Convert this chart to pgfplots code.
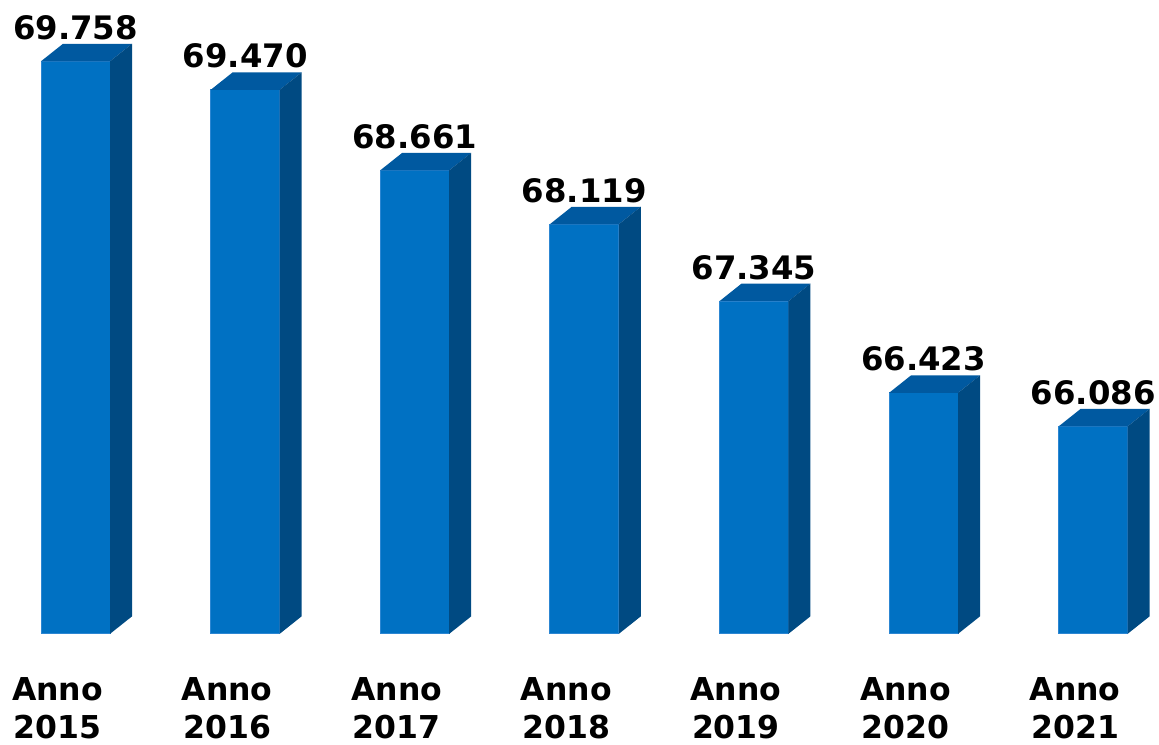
\documentclass[border={0pt 1.5pt 0pt 0pt}]{standalone}
\usepackage{fontspec}
\setmainfont{DejaVu Sans}
\usepackage{pgfplots}
\usepackage{pgfplotstable}
\pgfplotsset{compat=1.18}

\definecolor{frontblue}{HTML}{0071C3}
\definecolor{frontedge}{HTML}{2C86D2}
\definecolor{topblue}{HTML}{0059A0}
\definecolor{sideblue}{HTML}{004A82}

% top and side of each bar, drawn at the bar's top centre; \hh = bar height in pt
\pgfdeclareplotmark{prism}{%
  \pgfpathmoveto{\pgfqpoint{-10.35pt}{0pt}}%
  \pgfpathlineto{\pgfqpoint{-3.75pt}{5.25pt}}%
  \pgfpathlineto{\pgfqpoint{16.95pt}{5.25pt}}%
  \pgfpathlineto{\pgfqpoint{10.35pt}{0pt}}%
  \pgfpathclose
  \pgfsetfillcolor{topblue}\pgfusepath{fill}%
  \pgfpathmoveto{\pgfqpoint{10.35pt}{0pt}}%
  \pgfpathlineto{\pgfqpoint{16.95pt}{5.25pt}}%
  \pgfpathlineto{\pgfpoint{16.95pt}{5.25pt-\hh pt}}%
  \pgfpathlineto{\pgfpoint{10.35pt}{-\hh pt}}%
  \pgfpathclose
  \pgfsetfillcolor{sideblue}\pgfusepath{fill}%
}

\pgfplotstableread{
x v
0 69758
1 69470
2 68661
3 68119
4 67345
5 66423
6 66086
}\anni

\begin{document}
\begin{tikzpicture}
\begin{axis}[
  scale only axis,
  width=347.7pt, height=190.05pt,
  xmin=-0.4452, xmax=6.3886,
  ymin=64000, ymax=70371,
  axis line style={draw=none},
  major tick length=0pt,
  ytick=\empty,
  xtick={0,...,6},
  xticklabels={{Anno\\2015},{Anno\\2016},{Anno\\2017},{Anno\\2018},{Anno\\2019},{Anno\\2020},{Anno\\2021}},
  xticklabel style={font=\fontsize{9.45}{11.4}\selectfont\bfseries, align=center,
    inner sep=0pt, anchor=north, yshift=-13.05pt, xshift=-5.4pt},
  /pgf/number format/assume math mode=true,
]
\addplot[ybar, bar width=20.7pt, bar shift=0pt, fill=frontblue,
  draw=frontedge, line width=0.3pt,
  nodes near coords={\pgfmathprintnumber[1000 sep={.}]{\pgfplotspointmeta}},
  every node near coord/.append style={font=\fontsize{9.7}{11.6}\selectfont\bfseries,
    text=black, inner sep=0pt, yshift=6.3pt}]
  table[x=x, y=v] {\anni};
\addplot[only marks, scatter, mark=prism,
  point meta min=64000, point meta max=70371,
  scatter/@pre marker code/.append code={%
    \pgfmathsetmacro\hh{\pgfplotspointmetatransformed*0.19005}}]
  table[x=x, y=v] {\anni};
\end{axis}
\end{tikzpicture}
\end{document}
